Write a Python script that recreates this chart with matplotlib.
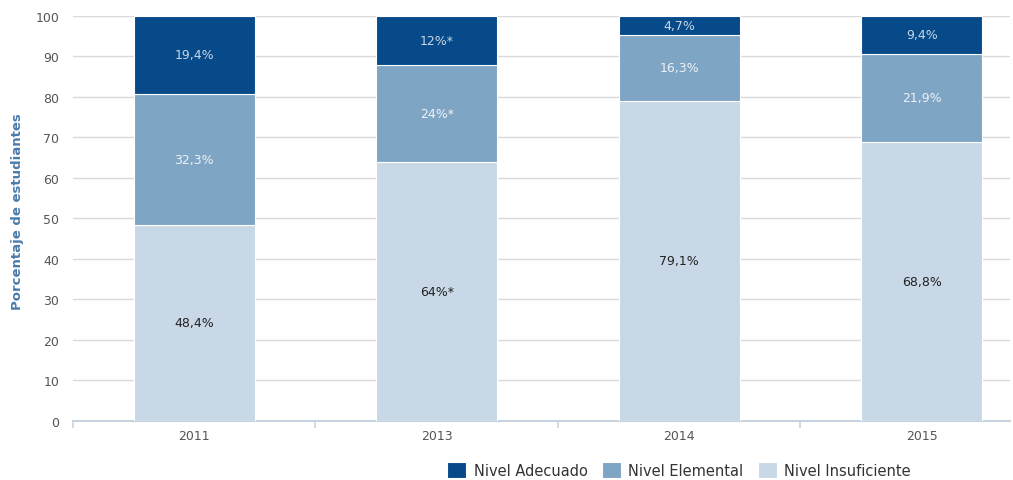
import numpy as np
import matplotlib.pyplot as plt

years = ["2011", "2013", "2014", "2015"]
insuficiente = [48.4, 64.0, 79.1, 68.8]
elemental = [32.3, 24.0, 16.3, 21.9]
adecuado = [19.4, 12.0, 4.7, 9.4]
lbl_insuf = ["48,4%", "64%*", "79,1%", "68,8%"]
lbl_elem = ["32,3%", "24%*", "16,3%", "21,9%"]
lbl_adec = ["19,4%", "12%*", "4,7%", "9,4%"]

c_adec = "#064a8a"
c_elem = "#7ea5c4"
c_insuf = "#c8d8e6"

plt.rcParams["font.family"] = ["DejaVu Sans"]

fig = plt.figure(figsize=(10.13, 4.81), dpi=100)
ax = fig.add_axes([0.072, 0.1227, 0.925, 0.842])

x = np.arange(len(years))
w = 0.5
b1 = ax.bar(x, insuficiente, w, color=c_insuf, edgecolor="white", linewidth=0.8,
            label="Nivel Insuficiente", zorder=3)
b2 = ax.bar(x, elemental, w, bottom=insuficiente, color=c_elem, edgecolor="white",
            linewidth=0.8, label="Nivel Elemental", zorder=3)
bot3 = np.array(insuficiente) + np.array(elemental)
b3 = ax.bar(x, adecuado, w, bottom=bot3, color=c_adec, edgecolor="white",
            linewidth=0.8, label="Nivel Adecuado", zorder=3)

for i in range(len(years)):
    ax.text(x[i], insuficiente[i] / 2, lbl_insuf[i], ha="center", va="center",
            fontsize=9, color="#222222", zorder=4)
    ax.text(x[i], insuficiente[i] + elemental[i] / 2, lbl_elem[i], ha="center",
            va="center", fontsize=9, color="#eef2f6", zorder=4)
    ax.text(x[i], bot3[i] + adecuado[i] / 2, lbl_adec[i], ha="center", va="center",
            fontsize=9, color="#c9d6e4", zorder=4)

ax.set_ylim(0, 100)
ax.set_xlim(-0.5, 3.364)
ax.set_yticks(np.arange(0, 101, 10))
ax.yaxis.grid(True, color="#dadada", linewidth=1.0, zorder=0)
ax.set_axisbelow(True)

ax.set_xticks(x)
ax.set_xticklabels(years)
ax.set_xticks([-0.5, 0.5, 1.5, 2.5], minor=True)
ax.tick_params(axis="x", which="major", length=0, labelsize=9, labelcolor="#555555", pad=6)
ax.tick_params(axis="x", which="minor", length=5, color="#c8d3e0", width=1.2)
ax.tick_params(axis="y", length=0, labelsize=9, labelcolor="#555555", pad=10)

for s in ["top", "right", "left"]:
    ax.spines[s].set_visible(False)
ax.spines["bottom"].set_color("#c8d3e0")
ax.spines["bottom"].set_linewidth(1.5)

ax.set_ylabel("Porcentaje de estudiantes", fontsize=9.5, fontweight="bold",
              color="#4a7bab")
ax.yaxis.set_label_coords(-0.052, 0.52)

ax.legend(handles=[b3, b2, b1], loc="upper center", bbox_to_anchor=(0.647, -0.07),
          ncol=3, frameon=False, fontsize=10.5, handlelength=1.3, handleheight=1.3,
          columnspacing=1.0, handletextpad=0.5, labelcolor="#333333")

fig.savefig("out.png", dpi=100)
